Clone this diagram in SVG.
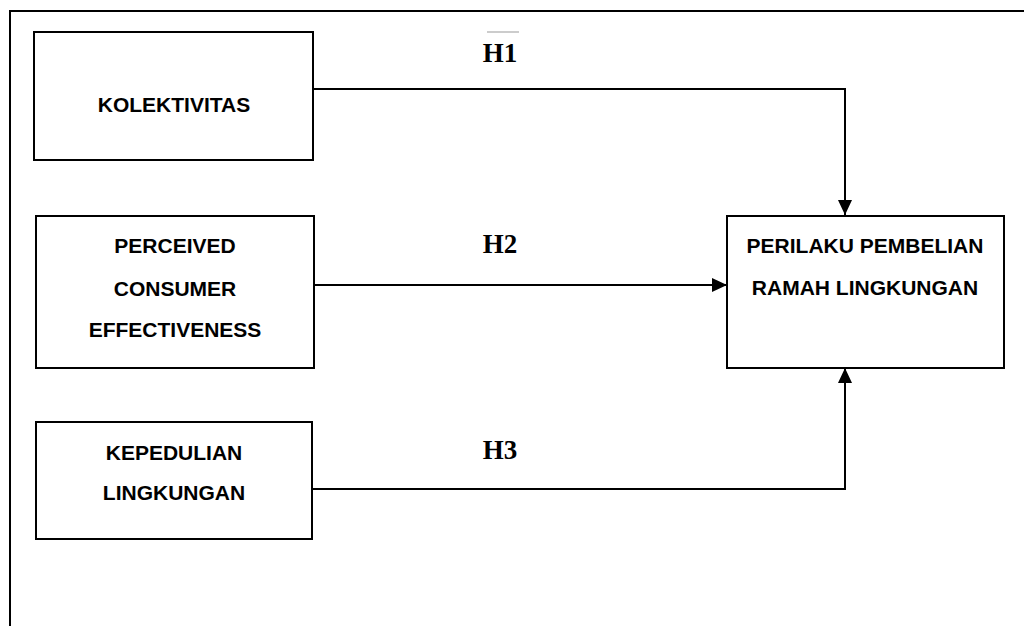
<svg xmlns="http://www.w3.org/2000/svg" width="1024" height="626" viewBox="0 0 1024 626">
<style>
.box{fill:#fff;stroke:#000;stroke-width:2}
.lbl{font-family:"Liberation Sans",Arial,sans-serif;font-weight:bold;font-size:21px;fill:#000;text-anchor:middle}
.h{font-family:"Liberation Serif","Times New Roman",serif;font-weight:bold;font-size:27px;fill:#000;text-anchor:middle}
.con{fill:none;stroke:#000;stroke-width:2}
</style>
<defs>
<marker id="arr" viewBox="0 0 15 14" refX="15" refY="7" markerWidth="15" markerHeight="14" markerUnits="userSpaceOnUse" orient="auto">
<path d="M0,0 L15,7 L0,14 Z" fill="#000"/>
</marker>
</defs>
<rect width="1024" height="626" fill="#fff"/>
<path d="M10,626 L10,11 L1024,11" fill="none" stroke="#000" stroke-width="2"/>
<g id="connectors">
<path class="con" d="M314,89 L845,89 L845,215" marker-end="url(#arr)"/>
<path class="con" d="M314,285 L727,285" marker-end="url(#arr)"/>
<path class="con" d="M312,489 L845,489 L845,368" marker-end="url(#arr)"/>
<line x1="487" y1="32" x2="519" y2="32" stroke="#999" stroke-width="1"/>
<text class="h" x="500" y="62">H1</text>
<text class="h" x="500" y="253">H2</text>
<text class="h" x="500" y="459">H3</text>
</g>
<g id="kolektivitas">
<rect class="box" x="34" y="32" width="279" height="128"/>
<text class="lbl" x="174" y="112">KOLEKTIVITAS</text>
</g>
<g id="pce">
<rect class="box" x="36" y="216" width="278" height="152"/>
<text class="lbl" x="175" y="253">PERCEIVED</text>
<text class="lbl" x="175" y="296">CONSUMER</text>
<text class="lbl" x="175" y="337">EFFECTIVENESS</text>
</g>
<g id="kepedulian">
<rect class="box" x="36" y="422" width="276" height="117"/>
<text class="lbl" x="174" y="460">KEPEDULIAN</text>
<text class="lbl" x="174" y="500">LINGKUNGAN</text>
</g>
<g id="perilaku">
<rect class="box" x="727" y="216" width="277" height="152"/>
<text class="lbl" x="865" y="253">PERILAKU PEMBELIAN</text>
<text class="lbl" x="865" y="295">RAMAH LINGKUNGAN</text>
</g>
</svg>
